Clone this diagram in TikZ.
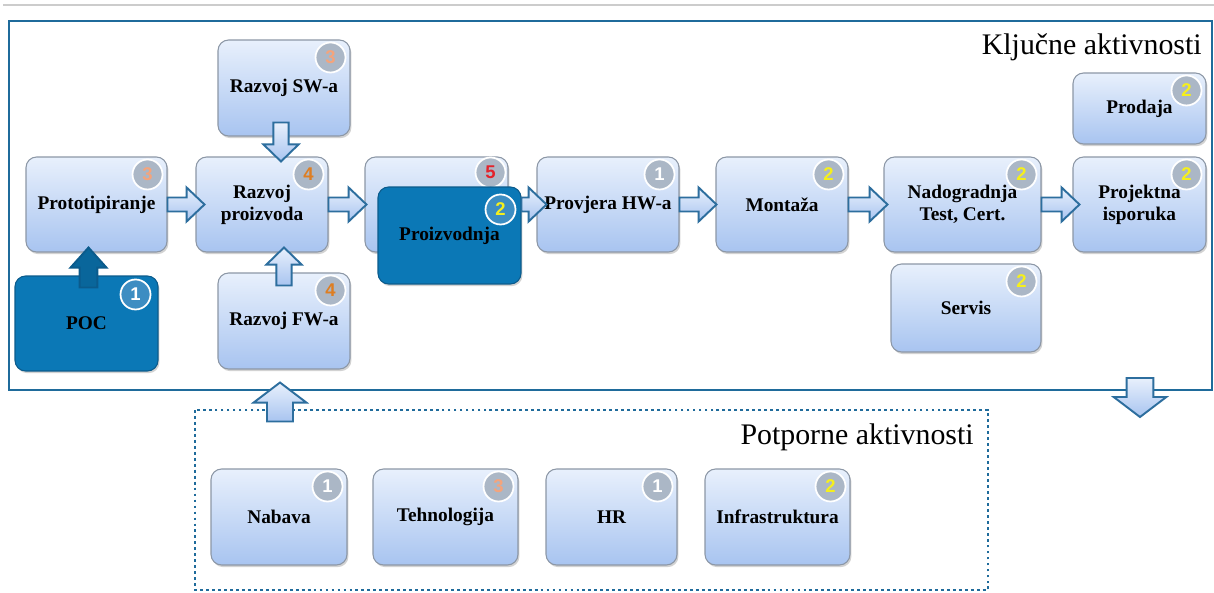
\documentclass[tikz,border=0pt]{standalone}
\usepackage{fontspec}
\setmainfont{Liberation Serif}
\setsansfont{Liberation Sans}
\usetikzlibrary{calc,shadows}

\definecolor{boxtop}{HTML}{E8F0FC}
\definecolor{boxbot}{HTML}{A8C4F0}
\definecolor{boxline}{HTML}{8C97A6}
\definecolor{darkbox}{HTML}{0B78B6}
\definecolor{darkline}{HTML}{0B5B8C}
\definecolor{frameblue}{HTML}{1F6B9B}
\definecolor{arrline}{HTML}{2D6E9E}
\definecolor{badgegray}{HTML}{ABB7C6}
\definecolor{badgeblue}{HTML}{3D8DC2}
\definecolor{nthree}{HTML}{F4A47C}
\definecolor{nfour}{HTML}{DE7E22}
\definecolor{nfive}{HTML}{E3232B}
\definecolor{ntwo}{HTML}{F5EF1C}

\tikzset{
  act/.style={rectangle, rounded corners=6pt, draw=boxline, line width=0.6pt,
    top color=boxtop, bottom color=boxbot,
    drop shadow={shadow xshift=0.8pt, shadow yshift=-1.2pt, opacity=0.35},
    font=\fontsize{11}{12.5}\selectfont\bfseries, align=center,
    minimum width=2.64cm, minimum height=1.9cm, inner sep=2pt},
  actdark/.style={act, top color=darkbox, bottom color=darkbox, draw=darkline},
  badge/.style={circle, draw=white, line width=1pt, fill=badgegray, minimum size=0.6cm,
    inner sep=0pt, font=\fontsize{10.5}{12}\selectfont\sffamily\bfseries},
  barrow/.style={draw=arrline, line width=1.1pt, line join=miter, top color=boxtop, bottom color=boxbot},
  darkarrow/.style={draw=darkline, top color=darkbox!85!black, bottom color=darkbox!85!black},
  title/.style={font=\fontsize{17}{20}\selectfont, inner sep=0pt}
}

% block arrow: [style]{start}{tip}{shaft half}{head half}{head length}
\newcommand\blockarr[6][]{%
  \coordinate (ba) at #2;
  \coordinate (bt) at #3;
  \coordinate (bh) at ($(bt)!#6!(ba)$);
  \draw[barrow,#1] ($(ba)!#4!90:(bt)$) -- ($(bh)!#4!-90:(ba)$) -- ($(bh)!#5!-90:(ba)$)
    -- (bt) -- ($(bh)!#5!90:(ba)$) -- ($(bh)!#4!90:(ba)$) -- ($(ba)!#4!-90:(bt)$) -- cycle;}

\begin{document}
\begin{tikzpicture}[x=0.02cm, y=-0.02cm]
  \useasboundingbox (0,0) rectangle (1214,592);
  \fill[white] (0,0) rectangle (1214,592);
  \draw[gray!40, line width=1.2pt] (3,5) -- (1214,5);

  % frames
  \coordinate (keynw) at (9,21);
  \coordinate (keyse) at (1212,390);
  \draw[frameblue, line width=1.6pt] (keynw) rectangle (keyse);
  \draw[frameblue, line width=1.6pt, dash pattern=on 1.6pt off 1.8pt] (195,410) rectangle (988,590);
  \node[title, anchor=east] (keytitle) at (1202,47) {Ključne aktivnosti};
  \node[title, anchor=east] (suptitle) at (974,437) {Potporne aktivnosti};

  % key activities
  \node[act, minimum width=2.82cm] (proto) at (96.5,204.5) {Prototipiranje};
  \node[act] (rproiz) at (262,204.5) {Razvoj\\proizvoda};
  \node[act, minimum height=1.92cm] (sw) at (284,88) {Razvoj SW-a};
  \node[act, minimum height=1.92cm] (fw) at (284,321) {Razvoj FW-a};
  \node[actdark, minimum width=2.86cm] (poc) at (86.5,323.5) {POC};
  \node[act, minimum width=2.86cm] (proizb) at (436.5,204.5) {};
  \node[badge, text=nfive] (proizb-num) at ($(proizb.north east)+(-18,16)$) {5};
  \node[actdark, minimum width=2.86cm, minimum height=1.94cm] (proizv) at (449.5,235.5) {Proizvodnja};
  \node[act, minimum width=2.84cm] (provj) at (608,204.5) {Provjera HW-a};
  \node[act] (mont) at (782,204.5) {Montaža};
  \node[act, minimum width=3.14cm] (nadog) at (962.5,204.5) {Nadogradnja\\Test, Cert.};
  \node[act, minimum width=2.66cm] (projekt) at (1139.5,204.5) {Projektna\\isporuka};
  \node[act, minimum width=2.66cm, minimum height=1.42cm] (prodaja) at (1139.5,108.5) {Prodaja};
  \node[act, minimum width=3cm, minimum height=1.76cm] (servis) at (966,308) {Servis};

  % support activities
  \node[act, minimum width=2.72cm, minimum height=1.92cm] (nabava) at (279,517) {Nabava};
  \node[act, minimum width=2.9cm, minimum height=1.92cm] (tehno) at (445.5,517) {Tehnologija};
  \node[act, minimum width=2.62cm, minimum height=1.92cm] (hr) at (611.5,517) {HR};
  \node[act, minimum width=2.9cm, minimum height=1.92cm] (infra) at (777.5,517) {Infrastruktura};

  % arrows
  \foreach \from/\to/\dx in {proto/rproiz/9, rproiz/proizb/2, provj/mont/1, mont/nadog/4, nadog/projekt/7}
    {\blockarr{(\from.east)}{($(\to.west)+(\dx,0)$)}{4pt}{9.7pt}{10.2pt}}
  \blockarr{(proizv.east |- provj.west)}{($(provj.west)+(10,0)$)}{4pt}{9.7pt}{10.2pt}
  \blockarr{($(sw.south)+(-3,-14)$)}{($(sw.south |- rproiz.north)+(-3,5)$)}{4.3pt}{10pt}{9.7pt}
  \blockarr{($(fw.north)+(0,13)$)}{($(fw.north |- rproiz.south)+(0,-5)$)}{4.3pt}{10pt}{9.7pt}
  \blockarr[darkarrow]{($(poc.north)+(2,12)$)}{($(poc.north |- proto.south)+(2,-5)$)}{5.1pt}{10.2pt}{11.4pt}
  \blockarr{($(fw.south)+(-4,52)$)}{($(fw.south)+(-4,13)$)}{7.4pt}{15pt}{11.4pt}
  \blockarr{($(keyse)+(-72,-12)$)}{($(keyse)+(-72,27)$)}{7.6pt}{15pt}{11.4pt}

  % badges
  \foreach \n/\v/\c in {proto/3/nthree, rproiz/4/nfour, sw/3/nthree, fw/4/nfour, provj/1/white,
      mont/2/ntwo, nadog/2/ntwo, projekt/2/ntwo, prodaja/2/ntwo, servis/2/ntwo,
      nabava/1/white, tehno/3/nthree, hr/1/white, infra/2/ntwo}
    \node[badge, text=\c] (\n-num) at ($(\n.north east)+(-20,18)$) {\v};
  \node[badge, fill=badgeblue, text=white] (poc-num) at ($(poc.north east)+(-23,19)$) {1};
  \node[badge, fill=badgeblue, text=ntwo] (proizv-num) at ($(proizv.north east)+(-21,23)$) {2};
\end{tikzpicture}
\end{document}
